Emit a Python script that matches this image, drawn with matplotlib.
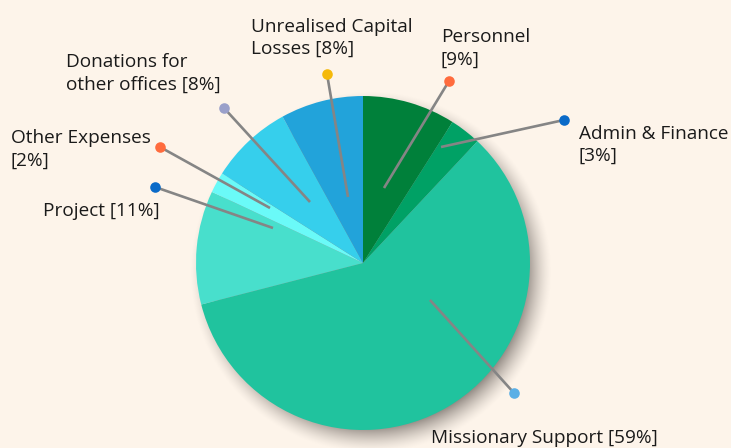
import numpy as np
import matplotlib
matplotlib.use("Agg")
import matplotlib.pyplot as plt

# ---- data ----
categories = ["Personnel", "Admin & Finance", "Missionary Support", "Project",
              "Other Expenses", "Donations for other offices", "Unrealised Capital Losses"]
values = [9, 3, 59, 11, 2, 8, 8]
label_texts = ["Personnel\n[9%]", "Admin & Finance\n[3%]", "Missionary Support [59%]",
               "Project [11%]", "Other Expenses\n[2%]", "Donations for\nother offices [8%]",
               "Unrealised Capital\nLosses [8%]"]

# ---- style / layout ----
slice_colors = ["#00803A", "#00A165", "#20C39E", "#48DFCC", "#6AFAF8", "#36CFEC", "#22A3DA"]
dot_colors = ["#FF6B3D", "#0A6AC8", "#5AAFE6", "#0A6AC8", "#FF6B3D", "#9AA0CA", "#F5B90A"]
W, H = 731, 448
cx, cy, R = 363, 263, 167
# leader lines in pixel coords (inner point, dot point), label anchor (x, first baseline)
inner_pts = [(384, 188), (441, 147), (430, 300), (273, 228), (270, 208), (310, 202), (348, 197)]
dot_pts = [(449, 81), (564, 120), (514, 393), (155, 187), (160, 147), (224, 108), (327, 74)]
label_pos = [(441, 42), (579, 138.5), (431, 443), (43, 216), (11, 143), (66, 67), (251, 31.5)]
line_gap = 22.5

bg = "#FDF4EA"
fig = plt.figure(figsize=(W / 100, H / 100), dpi=100, facecolor=bg)
ax = fig.add_axes([0, 0, 1, 1])
ax.set_facecolor(bg)

def Y(y):
    return H - y

# soft drop shadow
yy, xx = np.mgrid[0:H, 0:W]
d = np.hypot(xx + 0.5 - (cx + 8), yy + 0.5 - (cy + 9))
t = np.clip((d - (R - 12)) / 26.0, 0, 1)
alpha = 0.9 * (1 - t) ** 1.5
shadow = np.zeros((H, W, 4))
shadow[..., 0] = 0x88 / 255
shadow[..., 1] = 0x80 / 255
shadow[..., 2] = 0x7A / 255
shadow[..., 3] = alpha
ax.imshow(shadow, extent=(0, W, 0, H), origin="upper", zorder=1, interpolation="bilinear")

ax.pie(values, colors=slice_colors, startangle=90, counterclock=False,
       center=(cx, Y(cy)), radius=R, frame=True,
       wedgeprops=dict(linewidth=0, zorder=2))
ax.set_xlim(0, W)
ax.set_ylim(0, H)
ax.set_aspect("equal")
ax.axis("off")

font = ["Open Sans", "DejaVu Sans"]
for i, txt in enumerate(label_texts):
    (x0, y0), (x1, y1) = inner_pts[i], dot_pts[i]
    ax.plot([x0, x1], [Y(y0), Y(y1)], color="#858585", lw=1.9, zorder=3,
            solid_capstyle="butt")
    ax.scatter([x1], [Y(y1)], s=58, color=dot_colors[i], zorder=4, linewidths=0)
    lx, ly = label_pos[i]
    for j, line in enumerate(txt.split("\n")):
        ax.text(lx, Y(ly + j * line_gap), line, ha="left", va="baseline",
                fontsize=13.7, family=font, color="#1A1A1A", zorder=5)

fig.savefig("out.png", dpi=100, facecolor=bg)
